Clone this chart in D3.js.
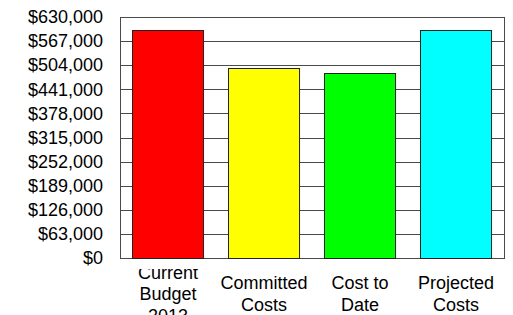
<!DOCTYPE html>
<html>
<head>
<meta charset="utf-8">
<script src="https://cdn.jsdelivr.net/npm/d3@7"></script>
<style>
  body { margin: 0; background: #fff; }
  text { font-family: Arial, "Liberation Sans", sans-serif; fill: #000; }
</style>
</head>
<body>
<div id="chart"></div>
<script>
// Chart data
const categories = ["Current Budget 2013", "Committed Costs", "Cost to Date", "Projected Costs"];
const labelLines = [["Current", "Budget", "2013"], ["Committed", "Costs"], ["Cost to", "Date"], ["Projected", "Costs"]];
const values = [596000, 497500, 483000, 596000];
const barColors = ["#ff0000", "#ffff00", "#00ff00", "#00ffff"];
const tickValues = [0, 63000, 126000, 189000, 252000, 315000, 378000, 441000, 504000, 567000, 630000];

const width = 513;
const height = 315;
const plot = { left: 120, right: 504, top: 17, bottom: 258 };

const svg = d3.select("#chart")
    .append("svg")
        .attr("width", width)
        .attr("height", height);

const x = d3.scaleBand()
    .domain(categories)
    .range([plot.left, plot.right])
    .paddingInner(0.26)
    .paddingOuter(0.13);

const y = d3.scaleLinear()
    .domain([0, 630000])
    .range([plot.bottom, plot.top]);

const fmt = d3.format("$,");

// Gridlines
svg.append("g")
    .selectAll("line")
    .data(tickValues)
    .join("line")
        .attr("x1", plot.left)
        .attr("x2", plot.right)
        .attr("y1", d => Math.round(y(d)) + 0.5)
        .attr("y2", d => Math.round(y(d)) + 0.5)
        .attr("stroke", "#4a4a4a")
        .attr("stroke-width", 1);

// Plot area border
svg.append("rect")
    .attr("x", plot.left + 0.5)
    .attr("y", plot.top + 0.5)
    .attr("width", plot.right - plot.left)
    .attr("height", plot.bottom - plot.top)
    .attr("fill", "none")
    .attr("stroke", "#4a4a4a")
    .attr("stroke-width", 1);

// Bars
svg.append("g")
    .selectAll("rect")
    .data(values)
    .join("rect")
        .attr("x", (d, i) => Math.round(x(categories[i])) + 0.5)
        .attr("y", d => Math.round(y(d)) + 0.5)
        .attr("width", x.bandwidth())
        .attr("height", d => Math.round(y(0)) - Math.round(y(d)))
        .attr("fill", (d, i) => barColors[i])
        .attr("stroke", "#222")
        .attr("stroke-width", 1);

// Y axis labels
const yAxis = svg.append("g")
    .attr("transform", `translate(${plot.left},0)`)
    .call(d3.axisLeft(y).tickValues(tickValues).tickFormat(fmt).tickSize(0).tickPadding(17));
yAxis.select(".domain").remove();
yAxis.selectAll("text")
    .style("font-size", "18px")
    .style("font-family", "Arial, 'Liberation Sans', sans-serif")
    .attr("fill", "#000");

// Category labels (clipped at top like the original)
svg.append("clipPath")
    .attr("id", "lblclip")
    .append("rect")
        .attr("x", 0)
        .attr("y", 269)
        .attr("width", width)
        .attr("height", height - 269);

const lineH = 21.5;
const labels = svg.append("g")
    .attr("clip-path", "url(#lblclip)")
    .selectAll("text")
    .data(categories)
    .join("text")
        .attr("x", d => x(d) + x.bandwidth() / 2)
        .attr("y", 300)
        .attr("text-anchor", "middle")
        .style("font-size", "18px");

labels.each(function(d, i) {
    const lines = labelLines[i];
    const offset = -(lines.length - 1) / 2 * lineH;
    d3.select(this).selectAll("tspan")
        .data(lines)
        .join("tspan")
            .attr("x", x(d) + x.bandwidth() / 2)
            .attr("y", (l, j) => 300 + offset + j * lineH)
            .text(l => l);
});
</script>
</body>
</html>
